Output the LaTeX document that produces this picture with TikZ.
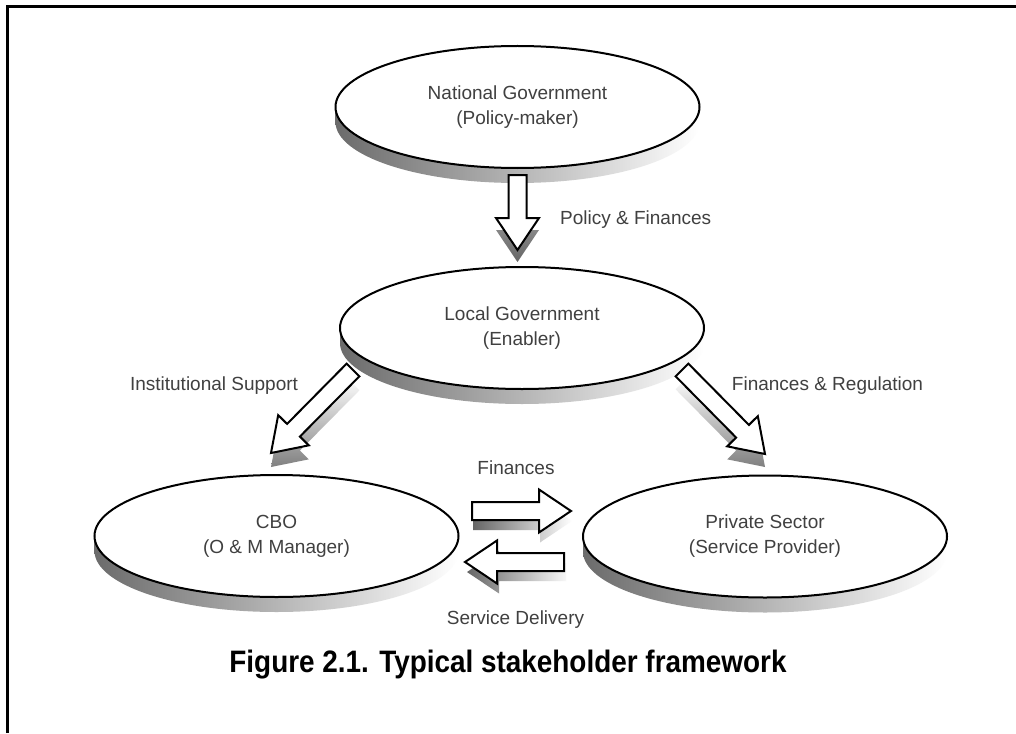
\documentclass[tikz,border=0pt]{standalone}
\usepackage{fontspec}
\setmainfont{Liberation Sans}
\newfontfamily\capfont[FakeStretch=0.9]{Liberation Sans}
\usetikzlibrary{calc,shapes.geometric}
\definecolor{txtgray}{gray}{0.25}
\tikzset{
  stake/.style={ellipse, draw=black, line width=2pt, fill=white,
    minimum width=364pt, minimum height=122pt, inner sep=0pt, align=center,
    text=txtgray, font=\fontsize{19}{25}\selectfont},
  lbl/.style={anchor=base, text=txtgray, font=\fontsize{19}{23}\selectfont, inner sep=0pt},
  arrowbox/.style={draw=black, fill=white, line width=2pt, line join=miter},
  discshade/.style={left color=black!58, middle color=black!30, right color=white, draw=none},
}
% ellipse with extruded shadow: #1 centre name, #2 x, #3 y
\newcommand\stakedisc[3]{%
  \coordinate (#1) at (#2,#3);
  \shade[discshade] ($(#1)+(-182,0)$) rectangle ($(#1)+(182,15)$);
  \shade[discshade] ($(#1)+(0,15)$) ellipse [x radius=182pt, y radius=61pt];
}
% fat arrow: #1 tail, #2 tip, #3 shadow shading, #4 shadow shift
\newcommand\fatarrow[4]{%
  \coordinate (fa-t) at (#1);
  \coordinate (fa-h) at (#2);
  \coordinate (fa-ts) at ($(#1)+(#4)$);
  \coordinate (fa-hs) at ($(#2)+(#4)$);
  \shade[#3] ($(fa-ts)!9pt!90:(fa-hs)$) -- ($(fa-hs)!33.24pt!-15.71:(fa-ts)$)
    -- ($(fa-hs)!38.55pt!-33.89:(fa-ts)$) -- (fa-hs)
    -- ($(fa-hs)!38.55pt!33.89:(fa-ts)$) -- ($(fa-hs)!33.24pt!15.71:(fa-ts)$)
    -- ($(fa-ts)!9pt!-90:(fa-hs)$) -- cycle;
  \filldraw[arrowbox] ($(fa-t)!9pt!90:(fa-h)$) -- ($(fa-h)!33.24pt!-15.71:(fa-t)$)
    -- ($(fa-h)!38.55pt!-33.89:(fa-t)$) -- (fa-h)
    -- ($(fa-h)!38.55pt!33.89:(fa-t)$) -- ($(fa-h)!33.24pt!15.71:(fa-t)$)
    -- ($(fa-t)!9pt!-90:(fa-h)$) -- cycle;
}
\begin{document}
\begin{tikzpicture}[x=1pt,y=-1pt]
\useasboundingbox (0,0) rectangle (1016,733);
\fill[white] (0,0) rectangle (1016,733);
% frame
\draw[line width=3pt, line join=miter] (7,733) -- (7,7) -- (1016,7);

% stakeholder discs
\stakedisc{natc}{517.5}{107}
\node[stake] (nat) at (natc) {National Government\\(Policy-maker)};
\stakedisc{locc}{522}{328}
\node[stake] (loc) at (locc) {Local Government\\(Enabler)};
\stakedisc{cboc}{276.5}{536}
\node[stake] (cbo) at (cboc) {CBO\\(O \& M Manager)};
\stakedisc{pric}{765}{536.5}
\node[stake] (pri) at (pric) {Private Sector\\(Service Provider)};

% arrow end points
\coordinate (pf-t) at (517.5,175);  \coordinate (pf-h) at (517.5,250);
\coordinate (is-t) at (353,370);    \coordinate (is-h) at (271,453);
\coordinate (fr-t) at (682,370);    \coordinate (fr-h) at (765,454);
\coordinate (fi-t) at (472,511);    \coordinate (fi-h) at (571,511);
\coordinate (sd-t) at (564,562);    \coordinate (sd-h) at (465,562);

\fatarrow{pf-t}{pf-h}{top color=black!30, bottom color=black!60}{0,12}
\fatarrow{is-t}{is-h}{top color=white, bottom color=black!50}{0,14}
\fatarrow{fr-t}{fr-h}{top color=white, bottom color=black!50}{0,13}
\fatarrow{fi-t}{fi-h}{left color=black!60, right color=white}{1,10}
\fatarrow{sd-t}{sd-h}{left color=black!60, right color=black!3}{2,10}

% labels
\node[lbl, anchor=base west] (lpf) at (560,224) {Policy \& Finances};
\node[lbl] (lis) at (214,390) {Institutional Support};
\node[lbl] (lfr) at (827.5,390) {Finances \& Regulation};
\node[lbl] (lfi) at (516,474) {Finances};
\node[lbl] (lsd) at (515.5,624) {Service Delivery};

% caption
\node[anchor=base, inner sep=0pt, font=\capfont\bfseries\fontsize{31}{34}\selectfont] (cap) at (508,672) {Figure 2.1. Typical stakeholder framework};
\end{tikzpicture}
\end{document}
